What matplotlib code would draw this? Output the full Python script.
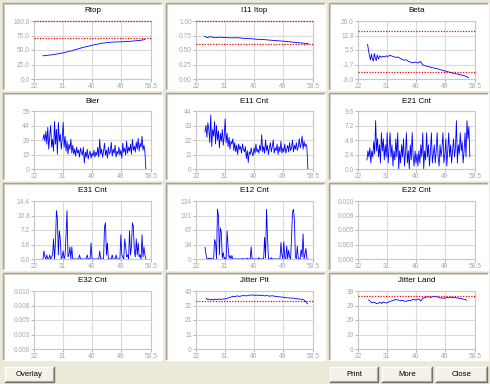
import numpy as np
import matplotlib
matplotlib.use("Agg")
import matplotlib.pyplot as plt
from matplotlib.patches import Rectangle

W, H = 490, 384
plt.rcParams['font.family'] = ['Liberation Sans', 'DejaVu Sans']

# x axis shared by all panels
x_ticks = [22, 31, 40, 49, 58.5]
x_tick_labels = ['22', '31', '40', '49', '58.5']

# sampling of the dense error series
grid_start, grid_step, grid_n = 24.8, 0.3, 108
grid_x = grid_start + grid_step * np.arange(grid_n)

rtop_x = [24.8, 28, 31, 34, 37, 40, 43, 46, 49, 52, 55, 56.6]
rtop_y = [40, 42, 45, 49, 54, 58, 61.5, 63.5, 64, 65, 66.5, 68]

itop_x = [24.6, 25.5, 26.5, 28, 29.5, 31.2, 33, 35, 37, 38.5, 40.7, 43, 45.5, 47.5, 49.7, 51.5, 53.5, 55.5, 57.1]
itop_y = [0.737, 0.715, 0.728, 0.712, 0.722, 0.714, 0.709, 0.712, 0.700, 0.698, 0.686, 0.680, 0.668, 0.660, 0.650, 0.640, 0.628, 0.618, 0.606]

beta_x = [25.0, 25.3, 25.6, 25.9, 26.2, 26.5, 26.8, 27.1, 27.4, 27.7,
          28.0, 28.4, 28.8, 29.3, 29.8, 30.3, 30.8, 31.3, 31.9, 32.5,
          33.1, 33.7, 34.3, 35.0, 35.7, 36.4, 37.1, 37.8, 38.5, 39.2,
          40.0, 40.8, 41.5, 42.2, 43.0, 44.0, 45.0, 46.0, 47.0, 48.0,
          49.0, 50.0, 51.0, 52.0, 53.0, 54.0, 55.0, 56.0, 56.5]
beta_y = [8.3, 5.0, 2.5, 0.5, 3.5, 1.0, 0.0, 3.8, 1.5, 0.2,
          3.0, 1.0, 2.6, 1.8, 2.4, 2.0, 2.6, 2.2, 2.9, 2.5,
          2.2, 1.8, 2.0, 1.5, 0.9, 0.4, 0.6, -0.3, -0.6, -0.9,
          -0.5, -1.0, -0.2, -2.0, -2.4, -2.8, -3.3, -3.6, -4.0, -4.5,
          -4.9, -5.4, -5.8, -6.2, -6.5, -6.9, -7.3, -7.9, -8.3]

bler = [30, 35, 28, 38, 25, 42, 20, 33, 44, 22, 30,
        18, 48, 25, 40, 15, 47, 28, 35, 20, 30,
        47, 22, 33, 18, 28, 15, 25, 20, 30, 16,
        24, 15, 20, 13, 22, 16, 19, 12, 21, 17,
        14, 22, 6, 17, 12, 20, 10, 15, 18, 11,
        16, 13, 19, 12, 17, 14, 22, 12, 30, 15,
        20, 12, 18, 26, 14, 19, 11, 22, 15, 17,
        27, 13, 20, 16, 24, 12, 18, 15, 22, 14,
        19, 11, 26, 17, 21, 14, 28, 16, 22, 18,
        25, 15, 30, 19, 23, 17, 27, 20, 31, 18,
        26, 22, 33, 19, 24, 17, 0]

e11 = [28, 33, 24, 35, 30, 20, 41, 17, 30, 25, 36,
       19, 33, 22, 29, 16, 27, 21, 30, 18, 25,
       38, 20, 27, 17, 24, 15, 21, 19, 23, 14,
       20, 13, 18, 11, 19, 15, 17, 12, 19, 15,
       13, 17, 8, 14, 5, 13, 11, 16, 12, 10,
       16, 12, 19, 13, 15, 12, 18, 14, 26, 13,
       17, 12, 22, 14, 18, 11, 16, 20, 13, 17,
       22, 12, 16, 14, 19, 11, 17, 13, 21, 12,
       16, 13, 19, 12, 15, 18, 13, 20, 14, 16,
       22, 13, 18, 15, 20, 14, 17, 23, 16, 19,
       25, 15, 21, 17, 19, 16, 0]

e21 = [1.5, 3, 2, 3.5, 1, 3, 2, 4.5, 2.5, 8, 3,
       5, 2, 4, 1, 6, 3, 5, 1.5, 4, 2,
       6, 1, 3.5, 6, 2, 4, 0.5, 3, 1.5, 5,
       2, 6, 0, 3, 1, 4, 2, 5, 0.5, 2.5,
       6, 1, 3, 0, 4, 1.5, 6, 2, 0.5, 3,
       1, 2.5, 0.5, 3, 1, 4, 2, 6, 0, 3,
       1.5, 6, 2, 4, 0.5, 3, 6, 1, 2.5, 4,
       1, 3, 6, 2, 0.5, 4, 2, 3.5, 6, 1,
       2.5, 5, 0.5, 3, 6, 2, 4, 1, 3, 5,
       2, 3.5, 8, 1, 4, 2.5, 6, 3, 4.5, 1,
       3, 6, 2, 8, 5, 7, 2]

e31 = [0, 2, 0.5, 0, 1, 0, 0, 1, 0, 0.5,
       1, 5, 0, 4, 12, 10, 1, 7, 5, 0,
       0.5, 2, 0, 1, 6, 12, 0.5, 1, 3, 0,
       3, 0, 0, 0, 0, 0, 0, 0, 1, 0,
       0, 0, 0, 0, 0, 0, 1, 0, 0, 0,
       4, 0, 0, 0, 0, 0, 0, 0, 0, 2,
       0, 0, 0, 0, 8, 9, 1, 4, 0, 0,
       0, 0, 1, 0, 0, 0, 1, 0, 0, 0,
       0, 6, 1, 0.5, 0, 5, 3, 0.5, 1, 0,
       7, 1, 3, 9, 8, 2, 0.5, 5, 1, 4,
       0.5, 1, 0, 6, 0.5, 3, 1, 0]

e12 = [27, 12, 1, 0, 2, 0, 2, 0, 0, 0,
       45, 38, 0, 115, 100, 10, 72, 60, 2, 15,
       0, 3, 0, 65, 30, 2, 8, 0, 8, 0,
       0, 0, 0, 0, 0, 0, 0, 0, 0, 1,
       0, 0, 0, 0, 2, 0, 0, 0, 28, 0,
       0, 0, 0, 0, 0, 0, 3, 0, 0, 0,
       0, 0, 50, 2, 115, 52, 0, 0, 0, 3,
       0, 0, 0, 0, 0, 0, 0, 0, 0, 38,
       10, 0, 40, 2, 0, 30, 0, 20, 5, 0,
       47, 108, 115, 90, 5, 0, 30, 2, 0, 0,
       22, 5, 58, 0, 10, 25, 0, 0]

pit_x = [25.2, 25.6, 26.0, 26.5, 27.0, 27.5, 28.0, 28.6, 29.2, 29.8,
         30.4, 31.0, 31.7, 32.3, 32.9, 33.5, 34.2, 34.9, 35.6, 36.3,
         37.0, 37.8, 38.6, 39.4, 40.2, 41.0, 41.8, 42.6, 43.4, 44.2,
         45.0, 45.8, 46.6, 47.4, 48.2, 49.0, 49.8, 50.6, 51.4, 52.2,
         53.0, 53.8, 54.6, 55.3, 55.9, 56.4, 56.8]
pit_y = [37.5, 36.5, 36.9, 36.2, 36.6, 36.3, 36.8, 36.4, 36.9, 36.6,
         36.9, 37.0, 37.4, 37.8, 38.3, 38.9, 38.7, 39.2, 38.8, 39.3,
         39.4, 39.2, 39.7, 39.9, 39.6, 39.8, 39.5, 39.7, 39.2, 39.4,
         39.0, 39.3, 38.9, 38.7, 38.4, 38.3, 37.9, 37.8, 37.5, 37.6,
         37.2, 37.0, 36.8, 36.5, 35.8, 34.5, 33.3]

land_x = [25.3, 25.8, 26.3, 26.8, 27.3, 27.8, 28.3, 28.8, 29.4, 29.9,
          30.4, 30.9, 31.4, 31.9, 32.4, 33.0, 33.6, 34.2, 34.8, 35.5,
          36.2, 37.0, 37.6, 38.2, 38.8, 39.4, 40.1, 40.7, 41.1, 41.6,
          42.2, 42.7, 43.2, 43.7, 44.2, 44.7, 45.2, 45.7, 46.2, 46.7,
          47.3, 47.8, 48.3, 48.8, 49.3, 49.8, 50.3, 50.8, 51.4, 51.9,
          52.4, 52.9, 53.4, 53.9, 54.4, 54.9, 55.4, 55.9]
land_y = [33.0, 32.2, 31.0, 31.5, 31.2, 30.5, 30.8, 31.4, 30.6, 31.6,
          31.2, 30.9, 31.4, 32.0, 32.3, 32.6, 33.3, 33.0, 32.8, 32.6,
          32.4, 32.0, 32.6, 32.4, 33.0, 33.4, 32.8, 33.7, 33.4, 32.3,
          34.0, 34.4, 34.8, 35.3, 34.9, 34.7, 35.1, 35.5, 35.0, 35.2,
          34.6, 34.2, 34.5, 34.0, 34.3, 34.7, 34.5, 34.9, 34.6, 34.4,
          34.7, 34.3, 34.2, 33.9, 33.8, 33.5, 33.2, 32.8]

titles = ['Rtop', 'I11 Itop', 'Beta', 'Bler', 'E11 Cnt', 'E21 Cnt',
          'E31 Cnt', 'E12 Cnt', 'E22 Cnt', 'E32 Cnt', 'Jitter Pit', 'Jitter Land']
y_limits = [(0, 100), (0, 1), (-9, 20), (0, 58.5), (0, 44), (0, 9.6),
            (0, 14.4), (0, 134), (0, 0.01), (0, 0.01), (0, 42.8), (0, 39)]
y_tick_labels = [['0.0', '25.0', '50.0', '75.0', '100.0'],
                 ['0.00', '0.25', '0.50', '0.75', '1.00'],
                 ['-9.0', '-1.7', '5.5', '12.8', '20.0'],
                 ['0', '15', '29', '44', '59'],
                 ['0', '11', '22', '33', '44'],
                 ['0.0', '2.4', '4.8', '7.2', '9.6'],
                 ['0.0', '3.6', '7.2', '10.8', '14.4'],
                 ['0', '34', '67', '101', '134'],
                 ['0.000', '0.003', '0.005', '0.008', '0.010'],
                 ['0.000', '0.003', '0.005', '0.008', '0.010'],
                 ['0', '11', '21', '32', '43'],
                 ['0', '10', '20', '29', '39']]
limits = [[100, 71], [1.0, 0.6], [15, -5.3], [], [], [],
          [], [], [], [], [35.5], [35.5]]
series = [(rtop_x, rtop_y), (itop_x, itop_y), (beta_x, beta_y),
          (grid_x, bler), (grid_x, e11), (grid_x, e21),
          (grid_x, e31), (grid_x, e12), None, None,
          (pit_x, pit_y), (land_x, land_y)]

buttons = ['Overlay', 'Print', 'More', 'Close']

BG = '#ECE9D8'
fig = plt.figure(figsize=(W / 100, H / 100), dpi=100, facecolor=BG)

# pixel overlay for panels and buttons
bg = fig.add_axes([0, 0, 1, 1])
bg.set_xlim(0, W)
bg.set_ylim(H, 0)
bg.axis('off')

col_left = [3, 166, 329]
row_top = [3, 93, 183, 273]
panel_w, panel_h = 159, 87
plot_left = [34, 196, 358]
plot_w, plot_h = 117, 58


def sunken(x, y, w, h):
    bg.add_patch(Rectangle((x, y), w, h, facecolor='white', edgecolor='none'))
    bg.plot([x, x, x + w], [y + h, y, y], color='#A0A0A0', lw=1)
    bg.plot([x + 1, x + 1, x + w - 1], [y + h - 1, y + 1, y + 1], color='#D4D0C8', lw=0.8)
    bg.plot([x, x + w, x + w], [y + h, y + h, y], color='#FFFFFF', lw=1)


def button(x, y, w, h, label):
    bg.add_patch(Rectangle((x, y), w, h, facecolor='#F3F1E8', edgecolor='none'))
    bg.plot([x, x, x + w], [y + h, y, y], color='#FFFFFF', lw=1)
    bg.plot([x, x + w, x + w], [y + h, y + h, y], color='#716F64', lw=1)
    bg.plot([x + 1, x + w - 1, x + w - 1], [y + h - 1, y + h - 1, y + 1], color='#ACA899', lw=0.8)
    bg.text(x + w / 2, y + h / 2 + 0.5, label, ha='center', va='center', fontsize=5.6, color='black')


for i in range(12):
    r, c = divmod(i, 3)
    sunken(col_left[c], row_top[r], panel_w, panel_h)

button(5, 367, 49, 15, buttons[0])
button(330, 367, 48, 15, buttons[1])
button(382, 367, 50, 15, buttons[2])
button(436, 367, 51, 15, buttons[3])

for i in range(12):
    r, c = divmod(i, 3)
    top = row_top[r] + 18
    ax = fig.add_axes([plot_left[c] / W, 1 - (top + plot_h) / H, plot_w / W, plot_h / H])
    lo, hi = y_limits[i]
    ax.set_xlim(22, 58.5)
    ax.set_ylim(lo, hi)
    ax.set_xticks(x_ticks)
    ax.set_xticklabels(x_tick_labels)
    ax.set_yticks(np.linspace(lo, hi, 5))
    ax.set_yticklabels(y_tick_labels[i])
    ax.grid(True, color='#DADADA', lw=0.8)
    ax.set_axisbelow(True)
    for s in ax.spines.values():
        s.set_color('#C8C8C8')
        s.set_linewidth(0.8)
    ax.tick_params(labelsize=4.8, colors='#A8A8A8', length=2, width=0.6, pad=1)
    ax.text(0.5, 1 + 10 / plot_h, titles[i], transform=ax.transAxes,
            ha='center', va='center', fontsize=5.8, color='black')
    if series[i] is not None:
        xs, ys = series[i]
        ax.plot(xs, ys, color='#0000FF', lw=0.6, zorder=3)
    for v in limits[i]:
        ax.axhline(v, color='#FF0000', lw=0.9, ls=(0, (1, 1.2)), zorder=4, clip_on=False)

fig.savefig('out.png', dpi=100, facecolor=BG)
